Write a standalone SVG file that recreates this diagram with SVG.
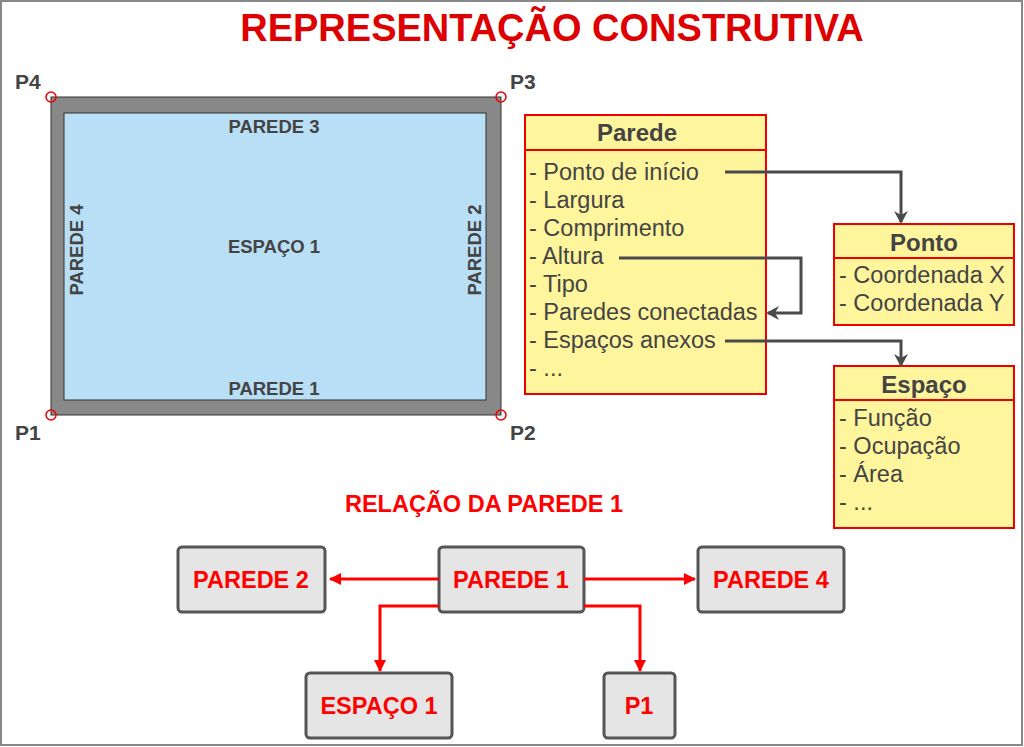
<svg xmlns="http://www.w3.org/2000/svg" width="1024" height="747" viewBox="0 0 1024 747">
<defs>
<marker id="ag" markerWidth="16" markerHeight="16" refX="12" refY="8" orient="auto" markerUnits="userSpaceOnUse"><path d="M1,1 L14,8 L1,15 L5,8 Z" fill="#4a4a4a"/></marker>
<marker id="ar" markerWidth="14" markerHeight="14" refX="11" refY="7" orient="auto" markerUnits="userSpaceOnUse"><path d="M0,1 L12,7 L0,13 Z" fill="#f00"/></marker>
</defs>
<style>
text{font-family:"Liberation Sans",Arial,sans-serif}
.lab{font-weight:bold;fill:#444;font-size:18.5px}
.pt{font-weight:bold;fill:#444;font-size:21px}
.cls{fill:#fff59d;stroke:#e00;stroke-width:2}
.hd{font-weight:bold;fill:#444;font-size:24px;text-anchor:middle}
.it{fill:#444;font-size:23.5px}
.bx{fill:#e5e5e5;stroke:#555;stroke-width:3}
.bt{fill:#f00;font-weight:bold;font-size:23.5px;text-anchor:middle}
.gl{fill:none;stroke:#4a4a4a;stroke-width:3}
.rl{fill:none;stroke:#f00;stroke-width:3}
</style>
<rect x="0" y="0" width="1024" height="747" fill="#fff"/>
<rect x="1" y="1" width="1021" height="744" fill="none" stroke="#888" stroke-width="2"/>
<text x="552" y="41" font-size="38" font-weight="bold" fill="#d00" text-anchor="middle">REPRESENTAÇÃO CONSTRUTIVA</text>
<g id="plan">
<rect x="51" y="97" width="450" height="318" fill="#888" stroke="#333" stroke-width="1"/>
<rect x="64" y="113" width="422" height="287" fill="#b8dff5" stroke="#333" stroke-width="1"/>
<text class="lab" x="274" y="133" text-anchor="middle">PAREDE 3</text>
<text class="lab" x="274" y="395" text-anchor="middle">PAREDE 1</text>
<text class="lab" x="274" y="253" text-anchor="middle">ESPAÇO 1</text>
<text class="lab" transform="translate(83,250) rotate(-90)" text-anchor="middle">PAREDE 4</text>
<text class="lab" transform="translate(481,250) rotate(-90)" text-anchor="middle">PAREDE 2</text>
<g fill="none" stroke="#e00" stroke-width="1.5">
<circle cx="51" cy="97" r="5"/><circle cx="501" cy="97" r="5"/><circle cx="51" cy="415" r="5"/><circle cx="501" cy="415" r="5"/>
</g>
<text class="pt" x="15" y="89">P4</text>
<text class="pt" x="510" y="89">P3</text>
<text class="pt" x="15" y="440">P1</text>
<text class="pt" x="510" y="440">P2</text>
</g>
<g id="parede">
<rect class="cls" x="525" y="115" width="241" height="279"/>
<line x1="525" y1="150" x2="766" y2="150" stroke="#e00" stroke-width="2"/>
<text class="hd" x="637" y="141">Parede</text>
<text class="it" x="529" y="180">- Ponto de início</text>
<text class="it" x="529" y="208">- Largura</text>
<text class="it" x="529" y="236">- Comprimento</text>
<text class="it" x="529" y="264">- Altura</text>
<text class="it" x="529" y="292">- Tipo</text>
<text class="it" x="529" y="320">- Paredes conectadas</text>
<text class="it" x="529" y="348">- Espaços anexos</text>
<text class="it" x="529" y="376">- ...</text>
</g>
<g id="ponto">
<rect class="cls" x="834" y="224" width="180" height="101"/>
<line x1="834" y1="258" x2="1014" y2="258" stroke="#e00" stroke-width="2"/>
<text class="hd" x="924" y="251">Ponto</text>
<text class="it" x="839" y="283">- Coordenada X</text>
<text class="it" x="839" y="311">- Coordenada Y</text>
</g>
<g id="espaco">
<rect class="cls" x="834" y="366" width="180" height="162"/>
<line x1="834" y1="400" x2="1014" y2="400" stroke="#e00" stroke-width="2"/>
<text class="hd" x="924" y="393">Espaço</text>
<text class="it" x="839" y="426">- Função</text>
<text class="it" x="839" y="454">- Ocupação</text>
<text class="it" x="839" y="482">- Área</text>
<text class="it" x="839" y="510">- ...</text>
</g>
<text x="484" y="512" font-size="23.5" font-weight="bold" fill="#f00" text-anchor="middle">RELAÇÃO DA PAREDE 1</text>
<g id="n-p1"><rect class="bx" x="439" y="547" width="145" height="65" rx="4"/><text class="bt" x="511" y="588">PAREDE 1</text></g>
<g id="n-p2"><rect class="bx" x="178" y="547" width="147" height="65" rx="4"/><text class="bt" x="251" y="588">PAREDE 2</text></g>
<g id="n-p4"><rect class="bx" x="698" y="547" width="146" height="65" rx="4"/><text class="bt" x="771" y="588">PAREDE 4</text></g>
<g id="n-e1"><rect class="bx" x="306" y="673" width="146" height="65" rx="4"/><text class="bt" x="379" y="714">ESPAÇO 1</text></g>
<g id="n-pt1"><rect class="bx" x="604" y="673" width="71" height="65" rx="4"/><text class="bt" x="639" y="714">P1</text></g>
<g id="connectors">
<polyline class="gl" points="725,172 901,172 901,222" marker-end="url(#ag)"/>
<polyline class="gl" points="619,258 801,258 801,313 768,313" marker-end="url(#ag)"/>
<polyline class="gl" points="725,341 901,341 901,365" marker-end="url(#ag)"/>
<polyline class="rl" points="439,579 330,579" marker-end="url(#ar)"/>
<polyline class="rl" points="584,579 695,579" marker-end="url(#ar)"/>
<polyline class="rl" points="439,606 380,606 380,671" marker-end="url(#ar)"/>
<polyline class="rl" points="584,606 640,606 640,671" marker-end="url(#ar)"/>
</g>
</svg>
